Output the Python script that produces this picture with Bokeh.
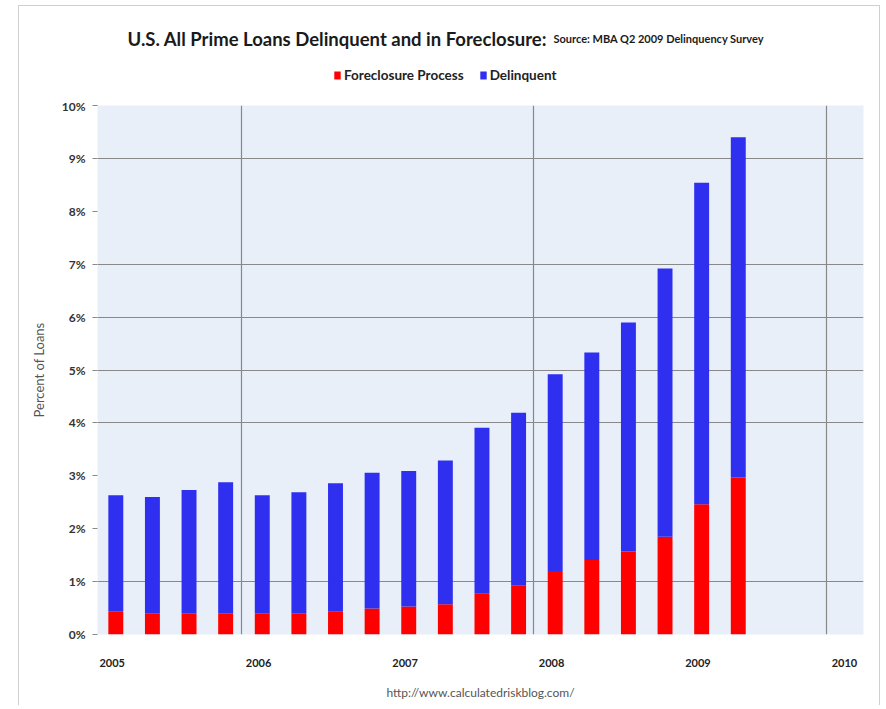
from bokeh.plotting import figure
from bokeh.layouts import column
from bokeh.models import (Range1d, FixedTicker, Legend, LegendItem, ColumnDataSource)
from bokeh.core.properties import value
from bokeh.embed import file_html
from bokeh.resources import INLINE

# ---- data ----
quarters = ["2005Q1", "2005Q2", "2005Q3", "2005Q4",
            "2006Q1", "2006Q2", "2006Q3", "2006Q4",
            "2007Q1", "2007Q2", "2007Q3", "2007Q4",
            "2008Q1", "2008Q2", "2008Q3", "2008Q4",
            "2009Q1", "2009Q2"]
foreclosure = [0.44, 0.40, 0.40, 0.40, 0.40, 0.40, 0.43, 0.49, 0.53,
               0.57, 0.77, 0.93, 1.20, 1.41, 1.57, 1.85, 2.46, 2.97]
delinquent = [2.19, 2.20, 2.33, 2.48, 2.23, 2.29, 2.43, 2.57, 2.56,
              2.72, 3.14, 3.26, 3.72, 3.92, 4.33, 5.07, 6.08, 6.43]
year_labels = ["2005", "2006", "2007", "2008", "2009", "2010"]
y_ticks = [0, 1, 2, 3, 4, 5, 6, 7, 8, 9, 10]
y_tick_labels = ["0%", "1%", "2%", "3%", "4%", "5%", "6%", "7%", "8%", "9%", "10%"]
title_text = "U.S. All Prime Loans Delinquent and in Foreclosure:"
source_text = "Source: MBA Q2 2009 Delinquency Survey"
footer_text = "http://www.calculatedriskblog.com/"
series_names = ["Foreclosure Process", "Delinquent"]

# ---- layout / style ----
OX, OY = 18, 5               # outer frame offset on the page
FIG_W = 860
FRAME_L, FRAME_R = 97, 863   # page px of the plot frame
LEFT = FRAME_L - OX - 1
RIGHT = FIG_W - (FRAME_R - OX - 1)
HDR_H = 98 - OY - 1
MAIN_H = 607
BAR_OFFSET = 0.145
BAR_W = 0.102
LABEL_OFFSET = 0.12
FONT = "Lato"
RED = "#ff0000"
BLUE = "#2f2ff0"
GRID = "#888888"
NAN = float("nan")

xpos = [int(q[:4]) + (int(q[5]) - 1) / 4 + BAR_OFFSET for q in quarters]
total = [f + d for f, d in zip(foreclosure, delinquent)]
src = ColumnDataSource(dict(x=xpos, fc=foreclosure, tot=total))

# ---------- header: title + legend ----------
hdr = figure(width=FIG_W, height=HDR_H, output_backend="svg", toolbar_location=None,
             x_range=Range1d(FRAME_L, FRAME_R), y_range=Range1d(0, HDR_H),
             min_border_left=LEFT, min_border_right=RIGHT,
             min_border_top=0, min_border_bottom=0, outline_line_color=None)
hdr.axis.visible = False
hdr.grid.visible = False
hdr.background_fill_color = "white"
hdr.border_fill_color = "white"

TITLE_Y = HDR_H - (38 - OY - 1)
hdr.text(x=[127], y=[TITLE_Y], text=[title_text], text_font=value(FONT),
         text_font_style="bold", text_font_size="18.5px", text_color="#1a1a1a",
         text_baseline="middle", text_align="left")
hdr.text(x=[553], y=[TITLE_Y], text=[source_text], text_font=value(FONT),
         text_font_style="bold", text_font_size="11px", text_color="#1a1a1a",
         text_baseline="middle", text_align="left")

# legend swatches (renderers with no visible marks)
d_fc = hdr.vbar(x=[NAN], top=[NAN], width=1, fill_color=RED, line_color=None)
d_dl = hdr.vbar(x=[NAN], top=[NAN], width=1, fill_color=BLUE, line_color=None)
legend = Legend(items=[LegendItem(label=series_names[0], renderers=[d_fc]),
                       LegendItem(label=series_names[1], renderers=[d_dl])],
                orientation="horizontal", location=(333 - FRAME_L, 15),
                glyph_width=8, glyph_height=10, label_standoff=3, spacing=15,
                padding=0, margin=0, border_line_color=None,
                background_fill_alpha=0,
                label_text_font=FONT, label_text_font_style="bold",
                label_text_font_size="13.5px", label_text_color="#222222",
                label_height=15)
hdr.add_layout(legend)

# ---------- main chart ----------
p = figure(width=FIG_W, height=MAIN_H, output_backend="svg", toolbar_location=None,
           x_range=Range1d(2005.02, 2010.25), y_range=Range1d(0, 10),
           min_border_left=LEFT, min_border_right=RIGHT, min_border_top=7,
           min_border_bottom=71)
p.background_fill_color = "#e8eff9"
p.border_fill_color = "white"
p.outline_line_color = None

p.vbar(x="x", bottom=0, top="fc", width=BAR_W, source=src,
       fill_color=RED, line_color=None)
p.vbar(x="x", bottom="fc", top="tot", width=BAR_W, source=src,
       fill_color=BLUE, line_color=None)

# grids (the lines that show in the reference)
p.xgrid.ticker = FixedTicker(ticks=[2006, 2008, 2010])
p.ygrid.ticker = FixedTicker(ticks=[0, 1, 4, 5, 6, 7, 9, 10])
for g in (p.xgrid, p.ygrid):
    g.grid_line_color = GRID
    g.grid_line_width = 1.2

# x axis
years = [int(y) for y in year_labels]
p.xaxis.ticker = FixedTicker(ticks=[y + LABEL_OFFSET for y in years])
p.xaxis.major_label_overrides = {y + LABEL_OFFSET: lab for y, lab in zip(years, year_labels)}
p.xaxis.axis_line_color = None
p.xaxis.major_tick_line_color = None
p.xaxis.minor_tick_line_color = None
p.xaxis.major_label_standoff = 18
p.xaxis.major_label_text_font = FONT
p.xaxis.major_label_text_font_style = "bold"
p.xaxis.major_label_text_font_size = "11px"
p.xaxis.major_label_text_color = "#222222"
p.xaxis.axis_label = footer_text
p.xaxis.axis_label_text_font = FONT
p.xaxis.axis_label_text_font_style = "normal"
p.xaxis.axis_label_text_font_size = "12px"
p.xaxis.axis_label_text_color = "#555555"
p.xaxis.axis_label_standoff = 15

# y axis
p.yaxis.ticker = FixedTicker(ticks=y_ticks)
p.yaxis.major_label_overrides = {t: lab for t, lab in zip(y_ticks, y_tick_labels)}
p.yaxis.axis_line_color = None
p.yaxis.major_tick_line_color = GRID
p.yaxis.major_tick_out = 5
p.yaxis.major_tick_in = 0
p.yaxis.minor_tick_line_color = None
p.yaxis.major_label_standoff = 7
p.yaxis.major_label_text_font = FONT
p.yaxis.major_label_text_font_style = "bold"
p.yaxis.major_label_text_font_size = "12px"
p.yaxis.major_label_text_color = "#333333"
p.yaxis.axis_label = "Percent of Loans"
p.yaxis.axis_label_text_font = FONT
p.yaxis.axis_label_text_font_style = "normal"
p.yaxis.axis_label_text_font_size = "13px"
p.yaxis.axis_label_text_color = "#555555"
p.yaxis.axis_label_standoff = 12

border = "1px solid #cfcfcf"
layout = column(hdr, p, spacing=0, margin=(OY, 0, 0, OX),
                styles={"border-left": border, "border-top": border,
                        "border-right": border})
open("out.html", "w").write(file_html(layout, INLINE))
